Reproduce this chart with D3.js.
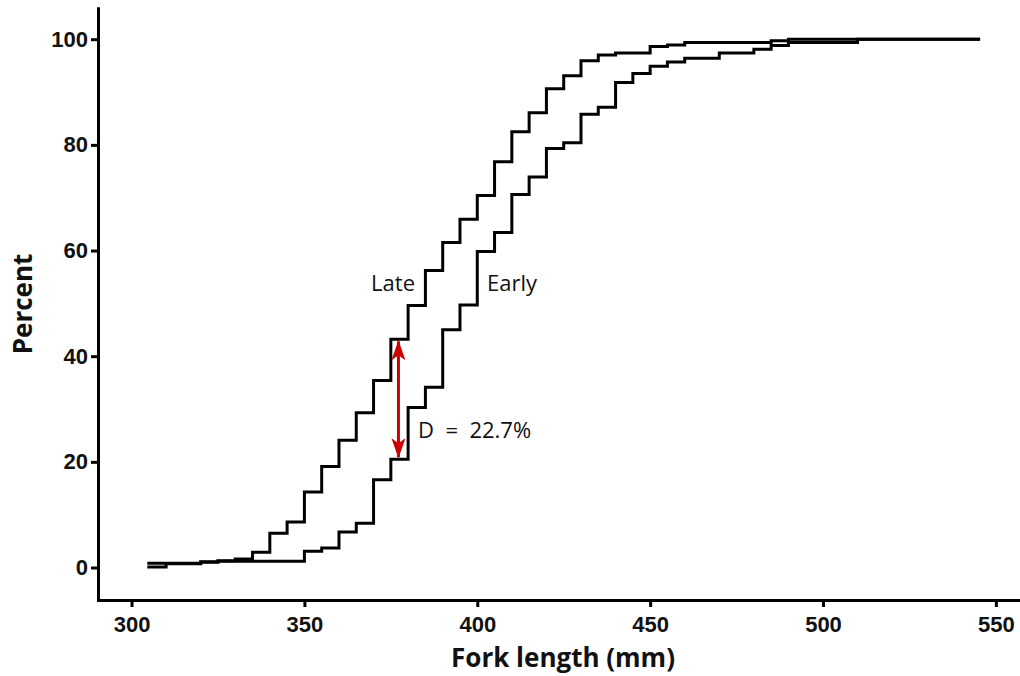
<!DOCTYPE html>
<html>
<head>
<meta charset="utf-8">
<script src="https://cdn.jsdelivr.net/npm/d3@7"></script>
<style>
  body { margin: 0; background: #fff; }
  svg { display: block; font-family: "Open Sans", "Noto Sans", sans-serif; }
  .axis text { font-size: 22px; font-weight: bold; fill: #111; }
  .title { font-size: 26px; font-weight: bold; fill: #111; }
  .lbl { font-size: 22px; fill: #111; white-space: pre; }
</style>
</head>
<body>
<svg id="chart"></svg>
<script>
// Fork length bins (mm), one step per bin
const lengths = [305, 310, 315, 320, 325, 330, 335, 340, 345, 350, 355, 360, 365, 370, 375,
  380, 385, 390, 395, 400, 405, 410, 415, 420, 425, 430, 435, 440, 445, 450, 455, 460, 465,
  470, 475, 480, 485, 490, 495, 500, 505, 510, 515, 520, 525, 530, 535, 540, 545];

// cumulative percent
const latePct = [0.8, 0.8, 0.8, 1.1, 1.3, 1.6, 2.9, 6.5, 8.6, 14.3, 19.1, 24.1, 29.3, 35.4, 43.2,
  49.6, 56.2, 61.5, 65.9, 70.4, 76.8, 82.5, 86.1, 90.6, 93.1, 95.9, 97.0, 97.4, 97.4, 98.6, 98.9, 99.4, 99.4,
  99.4, 99.4, 99.4, 99.7, 100, 100, 100, 100, 100, 100, 100, 100, 100, 100, 100, 100];
const earlyPct = [0.1, 0.7, 0.7, 1.0, 1.2, 1.2, 1.2, 1.2, 1.2, 3.1, 3.7, 6.7, 8.4, 16.6, 20.5,
  30.3, 34.1, 45.0, 49.7, 59.8, 63.4, 70.6, 73.9, 79.3, 80.4, 85.8, 87.1, 91.8, 93.5, 94.9, 95.7, 96.4, 96.4,
  97.4, 97.4, 98.1, 98.8, 99.4, 99.4, 99.4, 99.4, 100, 100, 100, 100, 100, 100, 100, 100];

const xTicks = [300, 350, 400, 450, 500, 550];
const yTicks = [0, 20, 40, 60, 80, 100];

// D statistic marker
const dAt = 377.2;
const dFrom = 20.5, dTo = 43.2;
const dText = "D  =  22.7%";

const width = 1020, height = 676;
const svg = d3.select('#chart').attr('width', width).attr('height', height);

const xScale = d3.scaleLinear().domain([290.3, 556.4]).range([98, 1018]);
const yScale = d3.scaleLinear().domain([-6.15, 105.85]).range([600, 8.3]);

const late = lengths.map((d, i) => [d, latePct[i]]);
const early = lengths.map((d, i) => [d, earlyPct[i]]);

const line = d3.line()
  .x(d => xScale(d[0]))
  .y(d => yScale(d[1]))
  .curve(d3.curveStepAfter);

[early, late].forEach(s => {
  svg.append('path')
    .datum(s)
    .attr('d', line)
    .attr('fill', 'none')
    .attr('stroke', '#000')
    .attr('stroke-width', 3)
    .attr('stroke-linejoin', 'miter')
    .attr('stroke-linecap', 'square');
});

// axes
const xAxis = d3.axisBottom(xScale).tickValues(xTicks).tickSizeOuter(0).tickSizeInner(7).tickPadding(9);
const yAxis = d3.axisLeft(yScale).tickValues(yTicks).tickSizeOuter(0).tickSizeInner(7).tickPadding(3);

const gx = svg.append('g').attr('class', 'axis').attr('transform', 'translate(0,600)').call(xAxis);
const gy = svg.append('g').attr('class', 'axis').attr('transform', 'translate(98,0)').call(yAxis);
[gx, gy].forEach(g => {
  g.select('.domain').attr('stroke', '#000').attr('stroke-width', 3).attr('stroke-linecap', 'square');
  g.selectAll('.tick line').attr('stroke', '#000').attr('stroke-width', 3);
  g.selectAll('text').attr('font-family', null).attr('font-size', null);
});

svg.append('text').attr('class', 'title')
  .attr('x', 563).attr('y', 667).attr('text-anchor', 'middle')
  .text('Fork length (mm)');
svg.append('text').attr('class', 'title')
  .attr('transform', 'translate(32,304) rotate(-90)').attr('text-anchor', 'middle')
  .text('Percent');

// curve labels
svg.append('text').attr('class', 'lbl').attr('x', 415).attr('y', 291).attr('text-anchor', 'end').text('Late');
svg.append('text').attr('class', 'lbl').attr('x', 487).attr('y', 291).text('Early');

// red double arrow
const red = '#cc0000';
const defs = svg.append('defs');
defs.append('marker').attr('id', 'ah').attr('viewBox', '0 0 20 14')
  .attr('refX', 19).attr('refY', 7).attr('markerWidth', 20).attr('markerHeight', 14)
  .attr('markerUnits', 'userSpaceOnUse').attr('orient', 'auto-start-reverse')
  .append('path').attr('d', 'M0,0 L20,7 L0,14 L5,7 Z').attr('fill', red);

svg.append('line')
  .attr('x1', xScale(dAt)).attr('x2', xScale(dAt))
  .attr('y1', yScale(dFrom) - 2).attr('y2', yScale(dTo) + 2)
  .attr('stroke', red).attr('stroke-width', 3)
  .attr('marker-start', 'url(#ah)').attr('marker-end', 'url(#ah)');

svg.append('text').attr('class', 'lbl').attr('x', 418).attr('y', 438).text(dText);
</script>
</body>
</html>
